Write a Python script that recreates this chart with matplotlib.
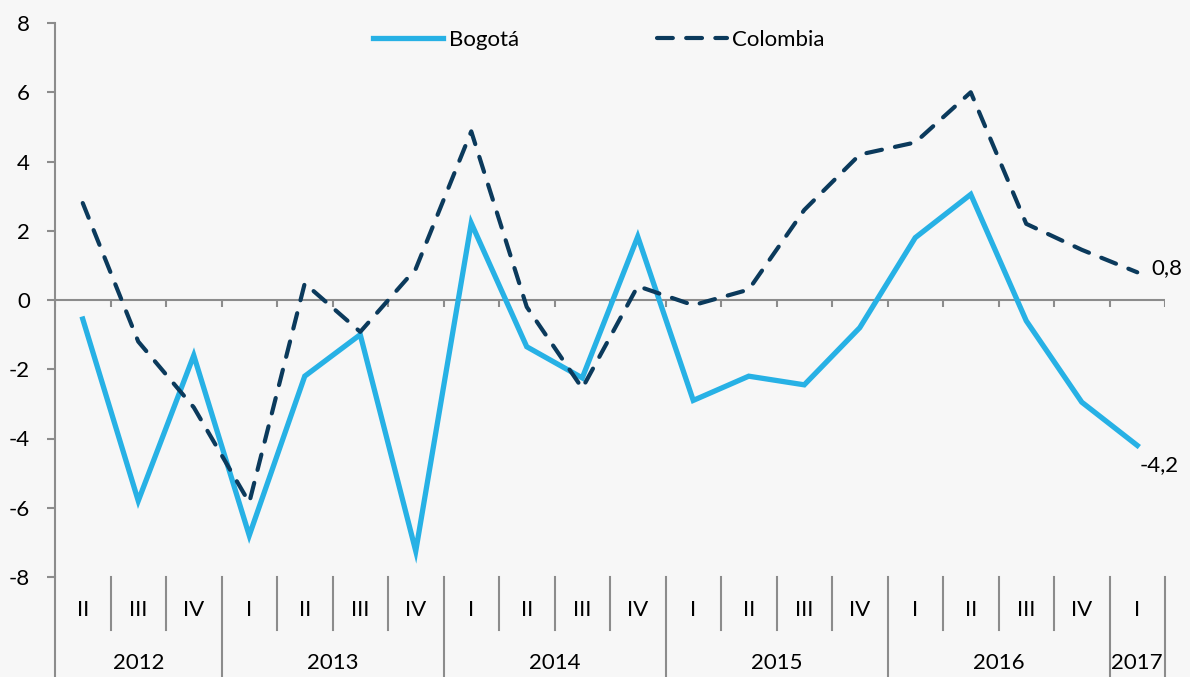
import matplotlib
matplotlib.use("Agg")
import matplotlib.pyplot as plt
import numpy as np

# quarterly data, 2012-II .. 2017-I
quarters = ["II", "III", "IV",
            "I", "II", "III", "IV",
            "I", "II", "III", "IV",
            "I", "II", "III", "IV",
            "I", "II", "III", "IV",
            "I"]
years = ["2012", "2013", "2014", "2015", "2016", "2017"]
year_sizes = [3, 4, 4, 4, 4, 1]

bogota = [-0.55, -5.8, -1.6, -6.8, -2.2, -1.0, -7.25, 2.22, -1.35, -2.25,
          1.83, -2.9, -2.2, -2.45, -0.8, 1.8, 3.05, -0.6, -2.95, -4.2]
colombia = [2.8, -1.2, -3.1, -5.85, 0.48, -0.92, 0.9, 4.87, -0.2, -2.55,
            0.4, -0.15, 0.3, 2.6, 4.2, 4.55, 6.0, 2.2, 1.45, 0.8]

BG = "#f7f7f7"
GRAY = "#8c8c8c"
C_BOG = "#27b1e5"
C_COL = "#0b3a5c"

plt.rcParams['font.family'] = ['Lato', 'DejaVu Sans']
FS = 16

fig = plt.figure(figsize=(11.9, 6.77), dpi=100, facecolor=BG)
ax = fig.add_axes([55 / 1190, 1 - 577 / 677, 1110 / 1190, 554 / 677])
ax.set_facecolor(BG)

n = len(quarters)
x = np.arange(n) + 0.5

ax.plot(x, bogota, color=C_BOG, lw=3.8, solid_joinstyle='miter', label="Bogotá")
ax.plot(x, colombia, color=C_COL, lw=3.0, dashes=(3.8, 3.2),
        dash_capstyle='round', label="Colombia")

ax.set_xlim(0, n)
ax.set_ylim(-8, 8)

for s in ["top", "right", "bottom"]:
    ax.spines[s].set_visible(False)
ax.spines["left"].set_color(GRAY)
ax.spines["left"].set_linewidth(1.5)

ax.set_yticks(np.arange(-8, 9, 2))
ax.set_yticklabels([str(v) for v in range(-8, 9, 2)], fontsize=FS)
ax.tick_params(axis='y', length=6, width=1.5, color=GRAY, pad=12)
ax.set_xticks([])

# zero line with small ticks at category boundaries
ax.axhline(0, color=GRAY, lw=1.5, zorder=1)
ax.vlines(np.arange(n + 1), -0.2, 0, color=GRAY, lw=1.5, zorder=1)

# category axis below the plot
tr = ax.get_xaxis_transform()
year_edges = np.concatenate([[0], np.cumsum(year_sizes)])
for b in range(n + 1):
    if b in year_edges:
        ax.plot([b, b], [0, -0.181], transform=tr, color=GRAY, lw=1.5,
                clip_on=False)
    else:
        ax.plot([b, b], [0, -0.0957], transform=tr, color=GRAY, lw=1.5,
                clip_on=False)
for i, q in enumerate(quarters):
    ax.text(i + 0.5, -0.0596, q, transform=tr, ha='center', va='center',
            fontsize=FS)
for k, yr in enumerate(years):
    ax.text((year_edges[k] + year_edges[k + 1]) / 2, -0.155, yr, transform=tr,
            ha='center', va='center', fontsize=FS)

# end labels
ax.annotate("0,8", (x[-1], colombia[-1]), xytext=(10, 3),
            textcoords='offset points', ha='left', va='center', fontsize=FS)
ax.annotate("-4,2", (x[-1], bogota[-1]), xytext=(2, -14),
            textcoords='offset points', ha='left', va='center', fontsize=FS)

leg = ax.legend(loc='center', bbox_to_anchor=(0.49, 0.969), ncol=2,
                frameon=False, fontsize=FS, handlelength=3.15,
                handletextpad=0.25, columnspacing=6.2)

fig.savefig("out.png", dpi=100, facecolor=BG)
